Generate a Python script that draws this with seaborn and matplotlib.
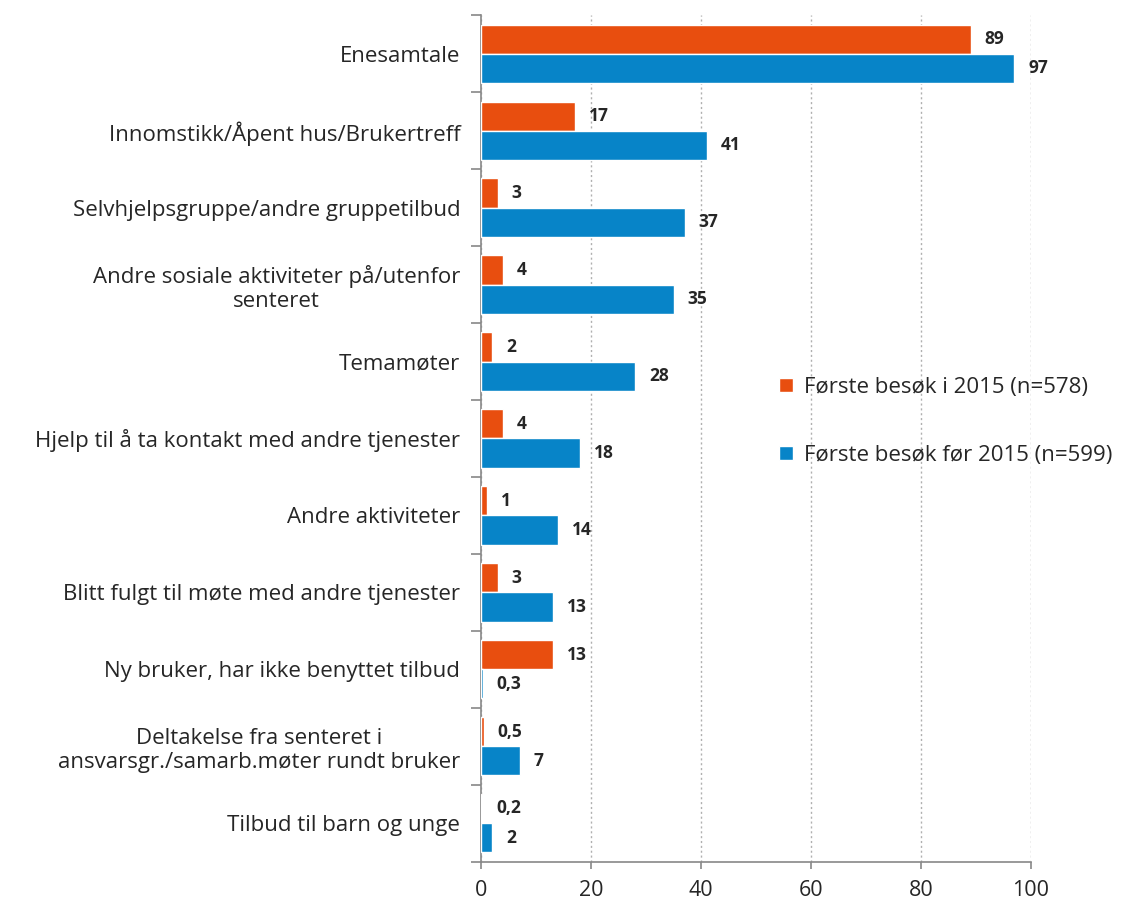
import matplotlib.pyplot as plt
import numpy as np
import pandas as pd
import seaborn as sns

categories = [
    "Enesamtale",
    "Innomstikk/Åpent hus/Brukertreff",
    "Selvhjelpsgruppe/andre gruppetilbud",
    "Andre sosiale aktiviteter på/utenfor\nsenteret",
    "Temamøter",
    "Hjelp til å ta kontakt med andre tjenester",
    "Andre aktiviteter",
    "Blitt fulgt til møte med andre tjenester",
    "Ny bruker, har ikke benyttet tilbud",
    "Deltakelse fra senteret i\nansvarsgr./samarb.møter rundt bruker",
    "Tilbud til barn og unge",
]
series = ["Første besøk i 2015 (n=578)", "Første besøk før 2015 (n=599)"]
first_2015 = [89, 17, 3, 4, 2, 4, 1, 3, 13, 0.5, 0.2]
before_2015 = [97, 41, 37, 35, 28, 18, 14, 13, 0.3, 7, 2]
colors = ["#E84E0F", "#0784C8"]

df = pd.DataFrame({
    "Tilbud": categories * 2,
    "Gruppe": [series[0]] * len(categories) + [series[1]] * len(categories),
    "Prosent": first_2015 + before_2015,
})

sns.set_style("white")
plt.rcParams["font.family"] = ["Open Sans", "DejaVu Sans"]
plt.rcParams["text.color"] = "#262626"

fig, ax = plt.subplots(figsize=(11.28, 9.05), dpi=100)
sns.barplot(data=df, y="Tilbud", x="Prosent", hue="Gruppe", orient="h",
            palette=colors, width=0.76, saturation=1, ax=ax, zorder=3)


def fmt(v):
    return f"{v:g}".replace(".", ",")


for cont, vals in zip(ax.containers, [first_2015, before_2015]):
    ax.bar_label(cont, labels=[fmt(v) for v in vals], padding=10,
                 fontsize=12.5, fontweight="bold", color="#262626")

ax.set_xlim(0, 100)
ax.set_ylim(len(categories) - 0.5, -0.5)
ax.set_xticks(np.arange(0, 101, 20))
ax.tick_params(axis="x", bottom=True, labelsize=15.5, length=5, width=1.2,
               color="#888888", direction="out", pad=8, labelcolor="#262626")
ax.set_yticks(np.arange(len(categories)))
ax.set_yticklabels(categories, fontsize=16, ha="right", multialignment="center")
ax.tick_params(axis="y", which="major", left=False, length=0, pad=15, labelcolor="#262626")
ax.set_yticks(np.arange(-0.5, len(categories)), minor=True)
ax.tick_params(axis="y", which="minor", left=True, length=7, width=1.2,
               color="#888888", direction="out")
ax.set_xlabel("")
ax.set_ylabel("")

ax.grid(axis="x", linestyle=(0, (1.5, 2)), color="#b0b0b0", linewidth=1, zorder=0)
ax.set_axisbelow(True)
for s in ["top", "right"]:
    ax.spines[s].set_visible(False)
for s in ["left", "bottom"]:
    ax.spines[s].set_color("#888888")
    ax.spines[s].set_linewidth(1.2)

ax.legend(loc="upper left", bbox_to_anchor=(0.683, 0.593), bbox_transform=fig.transFigure,
          frameon=False, fontsize=16, labelspacing=2.1, handlelength=0.6,
          handleheight=0.6, handletextpad=0.5, borderaxespad=0)

fig.subplots_adjust(left=0.4265, right=0.914, top=0.983, bottom=0.048)
fig.savefig("out.png", dpi=100)
